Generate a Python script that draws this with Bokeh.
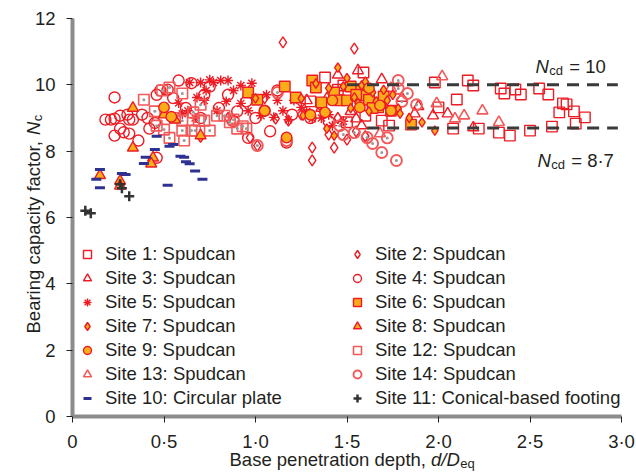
import math
from bokeh.plotting import figure
from bokeh.models import Range1d, FixedTicker, Legend, LegendItem, Label
from bokeh.embed import file_html
from bokeh.resources import INLINE

FONT = "Liberation Sans"
TXT = "#231f20"
RED = "#ed1c24"
LRED = "#f25a5a"
ORANGE = "#fbac18"
NAVY = "#2e3192"
DOT = "#9a9a9a"

# ---------------- data ----------------
site1_x = [1.38, 1.48, 1.58, 1.59, 1.60, 1.50, 1.73, 1.69, 1.98, 2.00, 2.08, 2.10, 2.16, 2.19, 2.22,
           2.33, 2.34, 2.36, 2.42, 2.45, 2.39, 2.50, 2.55, 2.60, 2.62, 2.66, 2.68, 2.70, 2.74, 2.80, 2.75, 1.30, 1.45]
site1_y = [10.22, 9.98, 9.83, 10.37, 9.07, 8.87, 8.77, 8.92, 10.07, 9.32, 8.68, 9.56, 10.13, 9.98, 8.68,
           8.56, 9.89, 9.74, 9.86, 9.71, 8.47, 8.62, 9.89, 9.71, 8.74, 9.17, 9.44, 9.41, 9.20, 9.02, 8.83, 9.50, 9.85]

site2_x = [1.15, 1.54, 1.31, 1.31, 1.43, 1.01, 0.97, 1.11, 1.18, 1.45, 1.55, 1.25, 1.35, 1.60, 1.40, 1.50, 0.85, 1.05]
site2_y = [11.28, 11.09, 8.11, 7.72, 8.11, 8.17, 8.41, 8.98, 8.92, 9.00, 8.60, 9.10, 9.40, 8.45, 8.50, 8.35, 9.00, 9.60]

site3_x = [1.56, 1.69, 1.89, 2.05, 1.97, 2.19, 1.55, 1.58, 1.28, 1.39, 1.87, 1.45, 1.36, 1.52, 1.80]
site3_y = [10.43, 10.16, 9.35, 9.13, 9.07, 8.71, 8.98, 8.77, 9.53, 9.59, 9.13, 10.30, 9.30, 9.20, 9.60]

site4_x = [0.23, 0.18, 0.21, 0.23, 0.31, 0.33, 0.26, 0.28, 0.23, 0.31, 0.36, 0.26, 0.41, 0.42, 0.46,
           0.48, 0.46, 0.58, 0.96, 1.17, 1.12, 1.05, 1.08, 0.65, 0.75, 0.85, 0.95, 0.55, 0.62, 0.70,
           0.80, 0.90, 1.00, 1.20, 0.72, 0.88, 0.52, 0.38, 0.45, 0.30, 1.30, 1.40]
site4_y = [9.62, 8.95, 8.95, 8.98, 8.95, 8.95, 8.68, 8.57, 8.47, 8.53, 8.32, 9.07, 9.00, 8.68, 7.80,
           9.83, 9.70, 10.13, 8.40, 8.26, 9.83, 9.22, 8.60, 10.05, 9.95, 9.70, 9.50, 9.60, 9.30, 9.00,
           9.30, 9.20, 9.00, 9.10, 9.70, 8.90, 9.85, 9.10, 8.85, 9.10, 9.00, 8.90]

site5_x = [0.64, 0.70, 0.77, 0.81, 0.85, 0.92, 0.72, 0.79, 0.92, 1.03, 1.12, 1.15, 1.31, 1.21, 0.63,
           0.60, 0.73, 0.68, 0.88, 0.96, 1.10, 1.25, 1.42, 1.36, 0.75, 0.98, 1.06, 1.18, 0.58, 0.67,
           0.84, 1.28, 1.48, 1.40]
site5_y = [10.07, 10.07, 10.07, 10.13, 10.13, 9.98, 9.53, 9.22, 9.44, 9.07, 9.53, 9.22, 8.98, 9.53, 9.22,
           9.13, 9.83, 9.62, 9.83, 9.22, 9.02, 9.32, 8.77, 9.00, 10.15, 10.05, 9.70, 8.95, 9.45, 9.00,
           9.50, 9.20, 8.90, 9.10]

site6_x = [0.96, 1.01, 1.16, 1.22, 1.31, 1.33, 1.43, 1.46, 1.57, 1.60, 1.68, 1.67, 1.74, 1.85, 1.36,
           1.50, 1.52, 1.62, 1.55, 1.70, 1.64]
site6_y = [9.77, 9.55, 9.95, 9.62, 10.13, 9.92, 9.77, 9.53, 9.83, 9.68, 9.44, 9.32, 9.22, 8.80, 9.47,
           9.53, 9.95, 9.55, 9.70, 9.65, 9.30]

site7_x = [1.45, 1.33, 1.48, 1.54, 1.58, 1.64, 1.72, 1.78, 1.79, 1.91, 1.98, 1.37, 1.39, 1.43, 1.26,
           1.00, 1.25, 1.17, 0.70, 1.52, 1.66, 1.70, 1.60, 1.84, 1.50, 1.40, 1.56, 1.75, 1.62]
site7_y = [10.52, 10.04, 9.95, 9.62, 9.98, 9.77, 9.53, 9.28, 9.13, 8.87, 8.62, 9.17, 8.68, 8.47, 9.07,
           9.59, 9.59, 8.41, 8.41, 9.30, 9.50, 9.85, 10.10, 9.00, 10.20, 9.90, 9.45, 9.70, 9.20]

site8_x = [0.15, 0.26, 0.26, 0.33, 0.33, 0.44, 0.43, 0.56, 0.70, 0.50]
site8_y = [7.27, 7.10, 6.95, 9.30, 8.10, 7.80, 7.62, 8.95, 8.47, 9.10]

site9_x = [0.50, 0.54, 1.05, 1.17, 1.74, 1.68, 1.57, 1.38, 1.42, 1.30, 1.62]
site9_y = [9.32, 9.04, 9.22, 8.41, 9.22, 9.38, 9.32, 9.17, 9.53, 9.10, 9.90]

site10_x = [0.15, 0.13, 0.15, 0.27, 0.29, 0.40, 0.39, 0.46, 0.45, 0.53, 0.55, 0.52, 0.59, 0.61, 0.62, 0.64, 0.67, 0.71]
site10_y = [7.45, 7.15, 6.90, 7.33, 7.30, 7.82, 7.63, 8.45, 8.05, 8.15, 8.20, 6.97, 7.85, 7.82, 7.68, 7.62, 7.40, 7.15]

site11_x = [0.07, 0.10, 0.26, 0.27, 0.31]
site11_y = [6.20, 6.13, 7.00, 6.88, 6.64]

site12_x = [0.39, 0.49, 0.53, 0.60, 0.46, 0.53, 0.60, 0.66, 0.69, 0.60, 0.65, 0.75, 0.79, 0.83, 0.86,
            0.90, 0.95, 0.72, 0.61, 0.67, 0.88, 0.93, 0.50, 0.56, 0.45, 0.70]
site12_y = [9.55, 9.83, 9.92, 9.74, 8.77, 8.40, 8.62, 9.17, 8.92, 8.92, 8.62, 8.62, 9.07, 9.07, 8.87,
            8.68, 8.68, 8.92, 8.32, 8.62, 8.95, 8.75, 8.65, 9.00, 9.20, 9.40]

site13_x = [2.02, 2.24, 2.33, 2.14, 2.09, 1.68, 1.99, 1.74, 1.62]
site13_y = [10.25, 9.22, 8.87, 9.07, 8.98, 8.53, 9.44, 9.90, 9.70]

site14_x = [1.77, 1.64, 1.61, 1.54, 1.46, 1.78, 1.78, 1.83, 1.01, 1.17, 1.12, 1.69, 1.72, 1.80, 1.88, 1.48]
site14_y = [7.72, 8.23, 8.41, 8.56, 8.77, 10.13, 9.89, 9.74, 8.17, 8.32, 9.77, 7.96, 8.40, 9.50, 9.40, 8.50]

ncd_values = [10.0, 8.7]
ncd_start = [1.50, 1.61]
ncd_end = [2.98, 2.98]
ncd_texts = ["= 10", "= 8·7"]

x_ticks = [0, 0.5, 1, 1.5, 2, 2.5, 3]
x_tick_labels = ["0", "0·5", "1·0", "1·5", "2·0", "2·5", "3·0"]
y_ticks = [0, 2, 4, 6, 8, 10, 12]

# ---------------- figure ----------------
W, H = 636, 475
X0, XPX = 72.0, 183.0          # pixel of x=0, pixels per unit
Y0, YPX = 416.0, 398.0 / 12.0  # pixel of y=0, pixels per unit
x_range = Range1d(-X0 / XPX, (W - X0) / XPX)
y_range = Range1d(-(H - Y0) / YPX, Y0 / YPX)

p = figure(width=W, height=H, x_range=x_range, y_range=y_range,
           output_backend="svg", toolbar_location=None,
           min_border_left=0, min_border_right=0, min_border_top=0, min_border_bottom=0)
p.outline_line_color = None
p.grid.visible = False
p.background_fill_color = "white"

for ax in (p.xaxis[0], p.yaxis[0]):
    ax.fixed_location = 0
    ax.axis_line_color = "#8c8c8c"
    ax.axis_line_width = 4
    ax.major_tick_line_color = TXT
    ax.major_tick_line_width = 1
    ax.major_tick_out = 6
    ax.major_tick_in = 0
    ax.minor_tick_line_color = None
    ax.major_label_text_font = FONT
    ax.major_label_text_font_size = "18.5px"
    ax.major_label_text_color = TXT

p.xaxis.ticker = FixedTicker(ticks=x_ticks)
p.xaxis.major_label_overrides = {t: l for t, l in zip(x_ticks, x_tick_labels)}
p.xaxis.major_label_standoff = 8
p.xaxis.bounds = (x_ticks[0], x_ticks[-1])
p.yaxis.ticker = FixedTicker(ticks=y_ticks)
p.yaxis.major_label_standoff = 11
p.yaxis.bounds = (y_ticks[0], y_ticks[-1])

LW = 1.4
r1 = p.scatter(site1_x, site1_y, marker="square", size=10.5, fill_color=None, line_color=RED, line_width=LW)
r2 = p.scatter(site2_x, site2_y, marker="diamond", size=11, fill_color=None, line_color=RED, line_width=LW)
r3 = p.scatter(site3_x, site3_y, marker="triangle", size=11, fill_color=None, line_color=RED, line_width=LW)
r4 = p.scatter(site4_x, site4_y, marker="circle", size=11, fill_color=None, line_color=RED, line_width=LW)
r5 = p.scatter(site5_x, site5_y, marker="asterisk", size=10, line_color=RED, line_width=LW)
r12 = p.scatter(site12_x, site12_y, marker="square", size=10.5, fill_color=None, line_color=LRED, line_width=1.6)
r12d = p.scatter(site12_x, site12_y, marker="circle", size=3, fill_color=DOT, line_color=None)
r13 = p.scatter(site13_x, site13_y, marker="triangle", size=11, fill_color=None, line_color=LRED, line_width=1.6)
r14 = p.scatter(site14_x, site14_y, marker="circle", size=11, fill_color=None, line_color=LRED, line_width=1.9)
r14d = p.scatter(site14_x, site14_y, marker="circle", size=3, fill_color=DOT, line_color=None)
r6 = p.scatter(site6_x, site6_y, marker="square", size=10.5, fill_color=ORANGE, line_color=RED, line_width=LW)
r7 = p.scatter(site7_x, site7_y, marker="diamond", size=9.5, fill_color=ORANGE, line_color=RED, line_width=LW)
r8 = p.scatter(site8_x, site8_y, marker="triangle", size=11, fill_color=ORANGE, line_color=RED, line_width=LW)
r9 = p.scatter(site9_x, site9_y, marker="circle", size=10.5, fill_color=ORANGE, line_color=RED, line_width=LW)
r10 = p.scatter(site10_x, site10_y, marker="dash", size=10, line_color=NAVY, line_width=3)
r11 = p.scatter(site11_x, site11_y, marker="cross", size=10, line_color="#333333", line_width=2.5)

p.segment(x0=ncd_start, y0=ncd_values, x1=ncd_end, y1=ncd_values,
          line_color="#3a3a3a", line_width=3, line_dash="12 8")

def leg(items, loc, standoff):
    return Legend(items=[LegendItem(label=l, renderers=r) for l, r in items], location=loc,
                  orientation="vertical", glyph_width=20, glyph_height=24, label_height=24,
                  spacing=0, padding=0, margin=0, label_standoff=standoff,
                  label_text_font=FONT, label_text_font_size="18.5px", label_text_color=TXT,
                  background_fill_alpha=0, border_line_alpha=0)

left_items = [("Site 1: Spudcan", [r1]), ("Site 3: Spudcan", [r3]), ("Site 5: Spudcan", [r5]),
              ("Site 7: Spudcan", [r7]), ("Site 9: Spudcan", [r9]), ("Site 13: Spudcan", [r13]),
              ("Site 10: Circular plate", [r10])]
right_items = [("Site 2: Spudcan", [r2]), ("Site 4: Spudcan", [r4]), ("Site 6: Spudcan", [r6]),
               ("Site 8: Spudcan", [r8]), ("Site 12: Spudcan", [r12]), ("Site 14: Spudcan", [r14]),
               ("Site 11: Conical-based footing", [r11])]
# legend positions: screen px from the bottom-left of the canvas-wide frame
p.add_layout(leg(left_items, (77, H - 410), 8))
p.add_layout(leg(right_items, (347, H - 410), 8))

F = 18.5
S = 13

def lab(text, cx, cy, size=F, italic=False, angle=0.0):
    # cx, cy: canvas pixel position (from top-left) of the text baseline start
    p.add_layout(Label(text=text, x=cx, y=H - cy, x_units="screen", y_units="screen", angle=angle,
                       text_font=FONT, text_font_size=f"{size}px", text_color=TXT,
                       text_font_style="italic" if italic else "normal",
                       text_align="left", text_baseline="alphabetic"))

# N_cd annotations
for (nx, ny), t in zip([(535, 66), (537, 160)], ncd_texts):
    lab("N", nx, ny, italic=True)
    lab("cd", nx + 0.722 * F + 0.5, ny + 4, size=S)
    lab(t, nx + 0.722 * F + 0.5 + 1.056 * S + 0.278 * F + 1, ny)

# x axis title
lab("Base penetration depth, ", 229, 459)
lab("d/D", 229 + 10.896 * F, 459, italic=True)
lab("eq", 229 + 10.896 * F + 1.556 * F + 0.5, 463, size=S)

# y axis title (rotated)
a = math.pi / 2
lab("Bearing capacity factor, ", 33, 333, angle=a)
lab("N", 33, 333 - 10.727 * F, italic=True, angle=a)
lab("c", 37, 333 - 10.727 * F - 0.722 * F - 0.5, size=S, angle=a)

open("out.html", "w").write(file_html(p, INLINE))
